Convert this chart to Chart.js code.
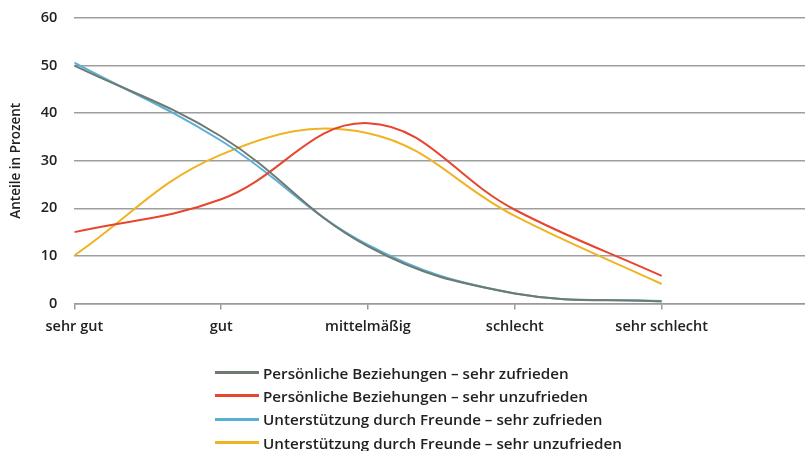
<!DOCTYPE html>
<html>
<head>
<meta charset="utf-8">
<script src="https://cdn.jsdelivr.net/npm/chart.js@4"></script>
<style>
  html, body { margin: 0; padding: 0; background: #fff; overflow: hidden; }
  #wrap { position: relative; width: 805px; height: 451px; }
  #legend { position: absolute; left: 215px; top: 361px; font-family: "Open Sans", sans-serif; font-weight: 600; font-size: 15.2px; color: #222; }
  .row { height: 23.3px; display: flex; align-items: center; white-space: nowrap; }
  .sw { width: 44px; height: 3px; margin-right: 4px; }
</style>
</head>
<body>
<div id="wrap">
  <canvas id="c" width="805" height="451"></canvas>
  <div id="legend"></div>
</div>
<script>
const categories = ["sehr gut", "gut", "mittelmäßig", "schlecht", "sehr schlecht"];
const seriesNames = [
  "Persönliche Beziehungen – sehr zufrieden",
  "Persönliche Beziehungen – sehr unzufrieden",
  "Unterstützung durch Freunde – sehr zufrieden",
  "Unterstützung durch Freunde – sehr unzufrieden"
];
const pbZufrieden   = [50.0, 35.1, 12.0, 2.1, 0.4];
const pbUnzufrieden = [15.0, 21.9, 37.9, 19.7, 5.8];
const ufZufrieden   = [50.6, 34.2, 12.3, 2.1, 0.5];
const ufUnzufrieden = [10.1, 31.3, 35.8, 18.4, 4.1];
const yTicks = [0, 10, 20, 30, 40, 50, 60];
const colors = ["#6e7a70", "#e8452f", "#5aafd6", "#f0b323"];

const allSeries = [pbZufrieden, pbUnzufrieden, ufZufrieden, ufUnzufrieden];
const toPts = arr => arr.map((v, i) => ({ x: i, y: v }));

const font = { family: "'Open Sans', sans-serif", size: 14.5, weight: '600' };

new Chart(document.getElementById('c'), {
  type: 'line',
  data: {
    datasets: allSeries.map((s, i) => ({
      label: seriesNames[i],
      data: toPts(s),
      borderColor: colors[i],
      backgroundColor: colors[i],
      borderWidth: 2,
      pointRadius: 0,
      tension: 0.4,
      fill: false
    }))
  },
  options: {
    responsive: false,
    animation: false,
    layout: { padding: { top: 18, right: 0, bottom: 107.5, left: 0 } },
    plugins: { legend: { display: false }, tooltip: { enabled: false } },
    scales: {
      x: {
        type: 'linear',
        min: 0,
        max: 4.976,
        afterFit: s => { s.height = 40; s.paddingLeft = 0; s.paddingRight = 0; },
        ticks: {
          stepSize: 1,
          includeBounds: false,
          autoSkip: false,
          maxRotation: 0,
          padding: 9,
          color: '#222',
          font: font,
          callback: v => (Number.isInteger(v) && categories[v] !== undefined) ? categories[v] : ''
        },
        grid: { drawOnChartArea: false, drawTicks: true, tickLength: 6, color: '#9a9a9a', lineWidth: 1.5 },
        border: { display: true, color: '#9a9a9a', width: 1.5 }
      },
      y: {
        min: 0,
        max: 60,
        afterFit: s => { s.width = 74.3; s.paddingTop = 8; s.paddingBottom = 0; },
        afterBuildTicks: s => { s.ticks = yTicks.map(v => ({ value: v })); },
        ticks: { padding: 17, color: '#222', font: font },
        grid: { drawTicks: false, color: '#9e9e9e', lineWidth: 1.5 },
        border: { display: false },
        title: {
          display: true,
          text: 'Anteile in Prozent',
          color: '#222',
          font: { family: "'Open Sans', sans-serif", size: 13.5, weight: '600' },
          padding: { top: 8, bottom: 0 }
        }
      }
    }
  }
});

const lg = document.getElementById('legend');
seriesNames.forEach((n, i) => {
  const r = document.createElement('div');
  r.className = 'row';
  const sw = document.createElement('span');
  sw.className = 'sw';
  sw.style.background = colors[i];
  const t = document.createElement('span');
  t.textContent = n;
  r.appendChild(sw); r.appendChild(t);
  lg.appendChild(r);
});
</script>
</body>
</html>
